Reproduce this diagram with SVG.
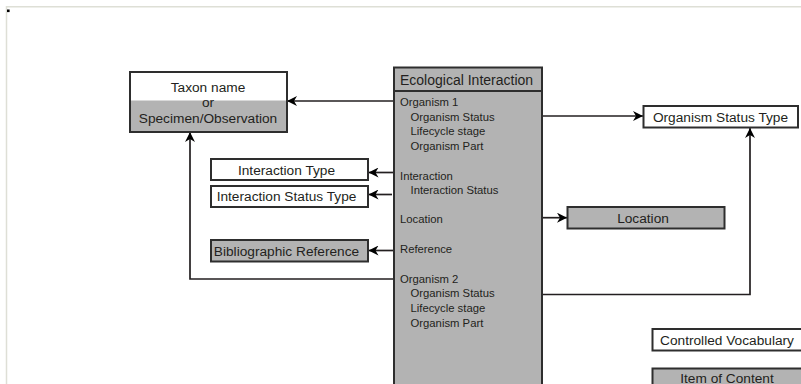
<svg xmlns="http://www.w3.org/2000/svg" width="801" height="384" viewBox="0 0 801 384">
<style>
.box{stroke:#2e2e2e;stroke-width:2}
.w{fill:#ffffff}
.g{fill:#b3b3b3}
.lbl{font-family:"Liberation Sans",Arial,sans-serif;font-size:13.7px;fill:#231f20;text-anchor:middle}
.item{font-family:"Liberation Sans",Arial,sans-serif;font-size:11.3px;fill:#231f20}
.con{fill:none;stroke:#231f20;stroke-width:1.7}
</style>
<defs>
<marker id="ah" viewBox="0 0 10 10" refX="10" refY="5" markerWidth="10" markerHeight="10" markerUnits="userSpaceOnUse" orient="auto">
<path d="M0,0 L10,5 L0,10 L3,5 z" fill="#000"/>
</marker>
</defs>
<rect width="801" height="384" fill="#ffffff"/>
<path d="M6.5,384 V6.8 H801" fill="none" stroke="#dedfd6" stroke-width="1.5"/>
<rect x="7" y="9.5" width="2.6" height="2.6" fill="#000"/>

<g id="connectors">
<path class="con" d="M394,101 H287" marker-end="url(#ah)"/>
<path class="con" d="M394,279 H190 V132" marker-end="url(#ah)"/>
<path class="con" d="M394,172.5 H368.5" marker-end="url(#ah)"/>
<path class="con" d="M392,194.5 H368.5" marker-end="url(#ah)"/>
<path class="con" d="M394,250.5 H368.5" marker-end="url(#ah)"/>
<path class="con" d="M542,116 H643" marker-end="url(#ah)"/>
<path class="con" d="M542,294.5 H750 V128" marker-end="url(#ah)"/>
<path class="con" d="M542,217.7 H567" marker-end="url(#ah)"/>
</g>

<g id="taxon">
<rect x="130" y="72" width="157" height="28.5" class="w"/>
<rect x="130" y="100.5" width="157" height="31.5" class="g"/>
<rect x="130" y="72" width="157" height="60" fill="none" class="box"/>
<text class="lbl" x="208" y="92">Taxon name</text>
<text class="lbl" x="208" y="106.5">or</text>
<text class="lbl" x="208" y="123">Specimen/Observation</text>
</g>

<g id="ecological-interaction">
<rect x="394" y="67.5" width="148" height="330" class="box g"/>
<line x1="394" y1="91" x2="542" y2="91" class="box"/>
<text class="lbl" x="400" y="85" style="text-anchor:start;font-size:14px">Ecological Interaction</text>
<text class="item" x="400" y="106">Organism 1</text>
<text class="item" x="410.5" y="120.5">Organism Status</text>
<text class="item" x="410.5" y="135">Lifecycle stage</text>
<text class="item" x="410.5" y="149.5">Organism Part</text>
<text class="item" x="400" y="180">Interaction</text>
<text class="item" x="410.5" y="194">Interaction Status</text>
<text class="item" x="400" y="223">Location</text>
<text class="item" x="400" y="252.7">Reference</text>
<text class="item" x="400" y="282.5">Organism 2</text>
<text class="item" x="410.5" y="297">Organism Status</text>
<text class="item" x="410.5" y="311.7">Lifecycle stage</text>
<text class="item" x="410.5" y="326.5">Organism Part</text>
</g>

<g id="interaction-type">
<rect x="211" y="159" width="157" height="21" class="box w"/>
<text class="lbl" x="286.5" y="174.5">Interaction Type</text>
</g>

<g id="interaction-status-type">
<rect x="211" y="186" width="157" height="21" class="box w"/>
<text class="lbl" x="286.5" y="201">Interaction Status Type</text>
</g>

<g id="bibliographic-reference">
<rect x="211" y="240" width="157" height="21.5" class="box g"/>
<text class="lbl" x="286.5" y="255.5">Bibliographic Reference</text>
</g>

<g id="organism-status-type">
<rect x="643.5" y="106" width="154.5" height="21.5" class="box w"/>
<text class="lbl" x="720.5" y="121.5">Organism Status Type</text>
</g>

<g id="location">
<rect x="567.5" y="207" width="157" height="21.5" class="box g"/>
<text class="lbl" x="643" y="222.5">Location</text>
</g>

<g id="controlled-vocabulary">
<rect x="652.5" y="329" width="150" height="21.5" class="box w"/>
<text class="lbl" x="727" y="344.5">Controlled Vocabulary</text>
</g>

<g id="item-of-content">
<rect x="652.5" y="368.5" width="150" height="25" class="box g"/>
<text class="lbl" x="727" y="382.5">Item of Content</text>
</g>
</svg>
